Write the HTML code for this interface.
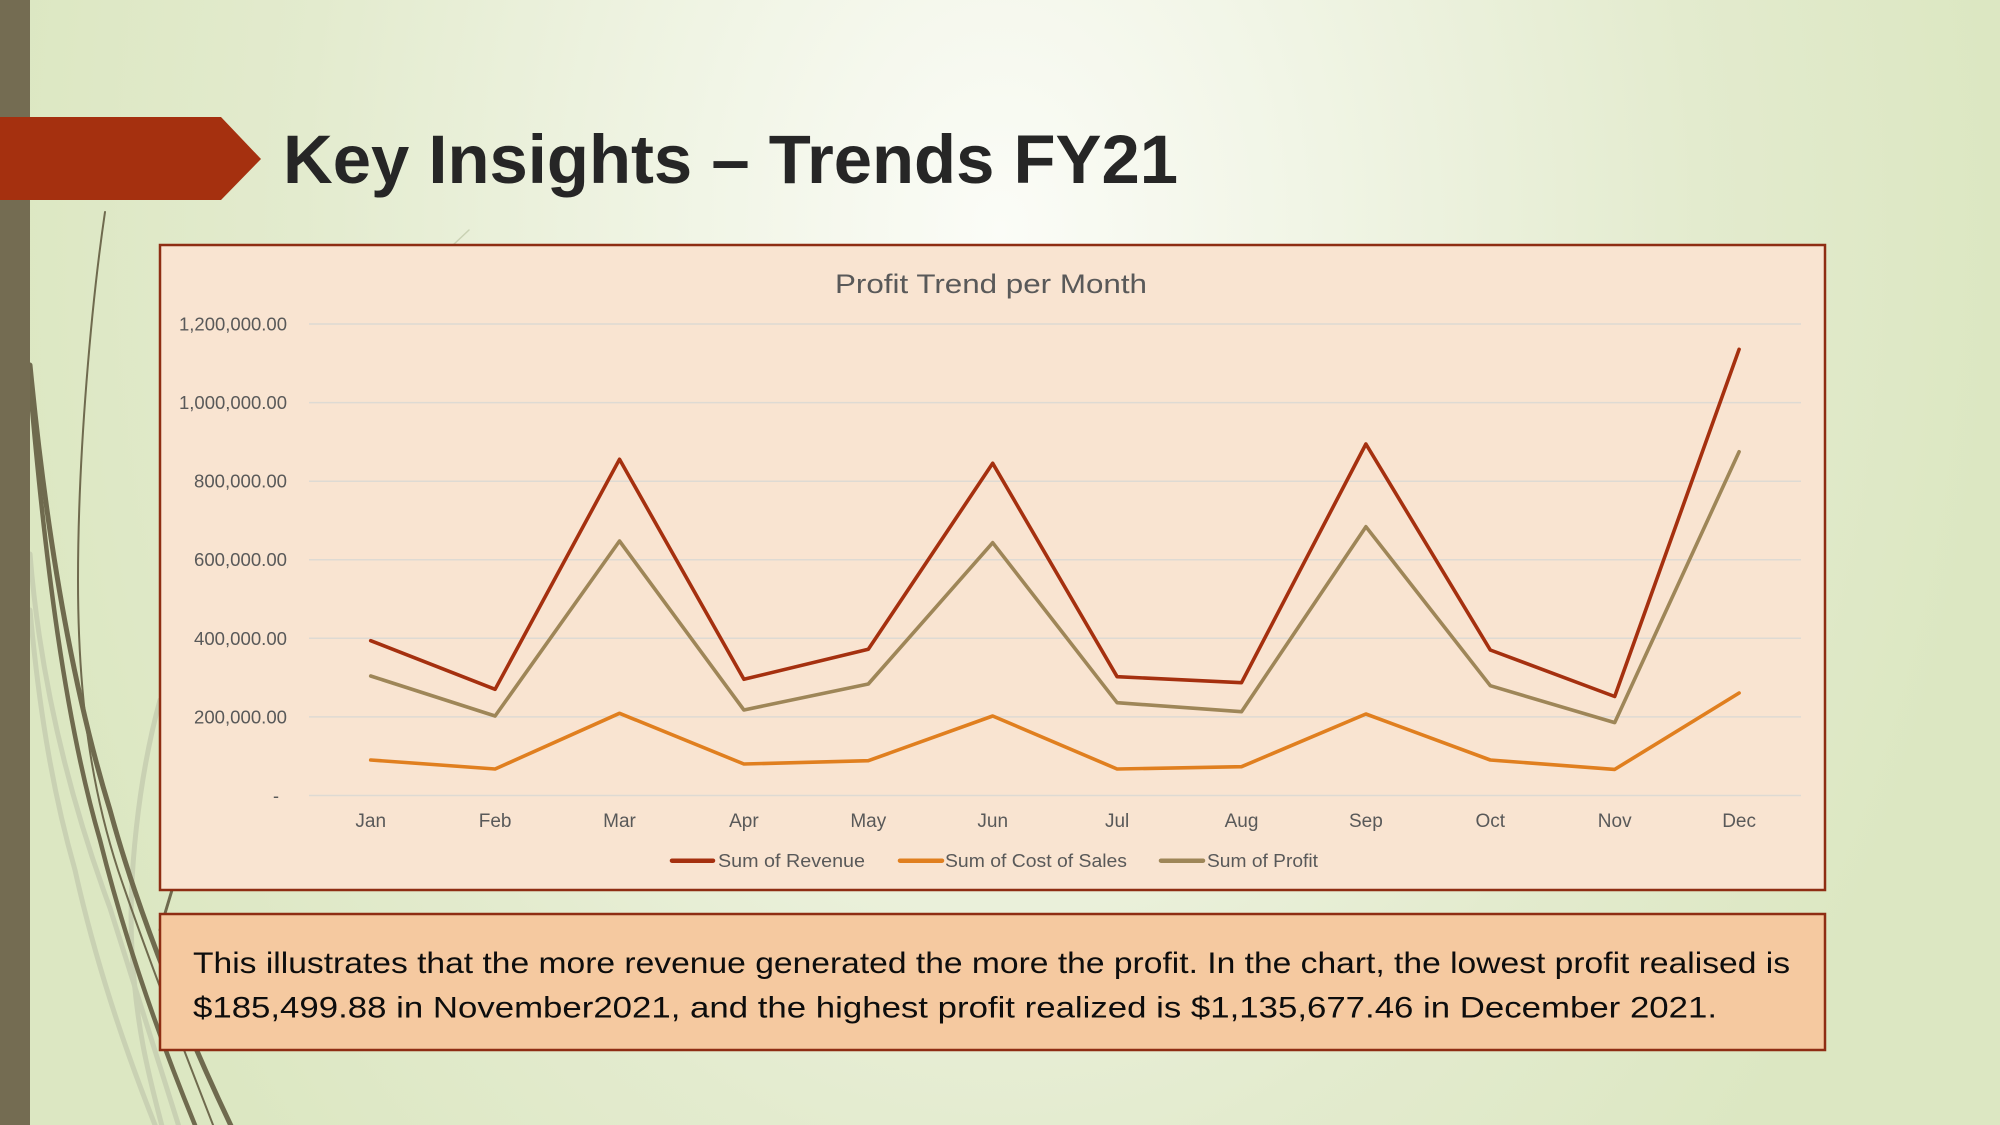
<!DOCTYPE html>
<html>
<head>
<meta charset="utf-8">
<style>
  html, body { margin: 0; padding: 0; width: 2000px; height: 1125px; overflow: hidden; }
  svg { display: block; }
  text { font-family: "Liberation Sans", sans-serif; }
</style>
</head>
<body>
<svg width="2000" height="1125" viewBox="0 0 2000 1125" xmlns="http://www.w3.org/2000/svg">
  <defs>
    <radialGradient id="bg" gradientUnits="userSpaceOnUse" cx="1000" cy="230" r="1000" gradientTransform="translate(1000,230) scale(1,1.35) translate(-1000,-230)">
      <stop offset="0" stop-color="#fbfcf7"/>
      <stop offset="0.3" stop-color="#f1f5e6"/>
      <stop offset="0.7" stop-color="#e3ebce"/>
      <stop offset="1" stop-color="#dce7c2"/>
    </radialGradient>
  </defs>

  <!-- background -->
  <rect x="0" y="0" width="2000" height="1125" fill="url(#bg)"/>

  <!-- decorative curves -->
  <g fill="none" stroke-linecap="round">
    <path d="M30,554 C40,680 70,800 110,908 C130,970 155,1050 180,1130" stroke="#c9d1b3" stroke-width="5"/>
    <path d="M30,610 C40,720 55,800 75,870 C95,960 125,1050 157,1130" stroke="#c9d1b3" stroke-width="5"/>
    <path d="M160,700 C138,780 128,880 132,950 C136,1030 150,1080 163,1130" stroke="#c9d1b3" stroke-width="5"/>
    <path d="M469,230 L452,246" stroke="#c9d1b3" stroke-width="1.5"/>
    <path d="M105,212 C92,300 78,450 78,580 C78,700 92,790 118,870 C145,950 180,1040 215,1130" stroke="#6f6a4e" stroke-width="2"/>
    <path d="M30,365 C45,520 70,680 110,810 C140,920 190,1040 233,1130" stroke="#6f6a4e" stroke-width="5"/>
    <path d="M30,385 C45,560 65,720 100,840 C125,940 160,1040 197,1130" stroke="#6f6a4e" stroke-width="4.5"/>
    <path d="M190,830 L160,930" stroke="#6f6a4e" stroke-width="3"/>
  </g>

  <!-- left olive bar -->
  <rect x="0" y="0" width="30" height="1125" fill="#746c52"/>

  <!-- banner arrow -->
  <polygon points="0,117 221,117 261,159 221,200 0,200" fill="#a5300f"/>

  <!-- title -->
  <text x="283" y="183" font-size="69" font-weight="bold" fill="#262626" textLength="895" lengthAdjust="spacingAndGlyphs">Key Insights – Trends FY21</text>

  <!-- chart box -->
  <rect x="160" y="245" width="1665" height="645" fill="#f9e4d1" stroke="#8e2d13" stroke-width="2.5"/>

  <!-- chart title -->
  <text x="835" y="293" font-size="27" fill="#595959" textLength="312" lengthAdjust="spacingAndGlyphs">Profit Trend per Month</text>

  <!-- gridlines -->
  <g stroke="#dedad3" stroke-width="1.5">
    <line x1="309" y1="324" x2="1801" y2="324"/>
    <line x1="309" y1="402.6" x2="1801" y2="402.6"/>
    <line x1="309" y1="481.2" x2="1801" y2="481.2"/>
    <line x1="309" y1="559.7" x2="1801" y2="559.7"/>
    <line x1="309" y1="638.3" x2="1801" y2="638.3"/>
    <line x1="309" y1="716.9" x2="1801" y2="716.9"/>
    <line x1="309" y1="795.5" x2="1801" y2="795.5"/>
  </g>

  <!-- y labels -->
  <g font-size="18" fill="#595959">
    <text x="179" y="330.5" textLength="108" lengthAdjust="spacingAndGlyphs">1,200,000.00</text>
    <text x="179" y="409" textLength="108" lengthAdjust="spacingAndGlyphs">1,000,000.00</text>
    <text x="194" y="487.7" textLength="93" lengthAdjust="spacingAndGlyphs">800,000.00</text>
    <text x="194" y="566.2" textLength="93" lengthAdjust="spacingAndGlyphs">600,000.00</text>
    <text x="194" y="644.8" textLength="93" lengthAdjust="spacingAndGlyphs">400,000.00</text>
    <text x="194" y="723.4" textLength="93" lengthAdjust="spacingAndGlyphs">200,000.00</text>
    <text x="273" y="802">-</text>
  </g>

  <!-- x labels -->
  <g font-size="19" fill="#595959" text-anchor="middle">
    <text x="370.7" y="827">Jan</text>
    <text x="495.1" y="827">Feb</text>
    <text x="619.5" y="827">Mar</text>
    <text x="743.9" y="827">Apr</text>
    <text x="868.3" y="827">May</text>
    <text x="992.7" y="827">Jun</text>
    <text x="1117.1" y="827">Jul</text>
    <text x="1241.5" y="827">Aug</text>
    <text x="1365.9" y="827">Sep</text>
    <text x="1490.3" y="827">Oct</text>
    <text x="1614.7" y="827">Nov</text>
    <text x="1739.1" y="827">Dec</text>
  </g>

  <!-- series -->
  <g fill="none" stroke-width="3.6" stroke-linejoin="round" stroke-linecap="round">
    <polyline stroke="#a5300f" points="370.7,640.7 495.1,689.3 619.5,459.3 743.9,679.3 868.3,649.3 992.7,463.3 1117.1,676.7 1241.5,682.7 1365.9,444 1490.3,650 1614.7,696.5 1739.1,349.3"/>
    <polyline stroke="#e07f1f" points="370.7,760 495.1,769 619.5,713.3 743.9,764 868.3,760.7 992.7,716 1117.1,769 1241.5,766.7 1365.9,714 1490.3,760 1614.7,769.4 1739.1,693"/>
    <polyline stroke="#9e8658" points="370.7,676 495.1,716 619.5,541 743.9,710 868.3,684 992.7,542.7 1117.1,702.7 1241.5,711.7 1365.9,526.7 1490.3,685.7 1614.7,722.6 1739.1,451.7"/>
  </g>

  <!-- legend -->
  <g stroke-width="4.5" stroke-linecap="round">
    <line x1="672" y1="860.7" x2="713" y2="860.7" stroke="#a5300f"/>
    <line x1="900" y1="860.7" x2="942" y2="860.7" stroke="#e07f1f"/>
    <line x1="1161" y1="860.7" x2="1203" y2="860.7" stroke="#9e8658"/>
  </g>
  <g font-size="18" fill="#595959">
    <text x="718" y="867" textLength="147" lengthAdjust="spacingAndGlyphs">Sum of Revenue</text>
    <text x="945" y="867" textLength="182" lengthAdjust="spacingAndGlyphs">Sum of Cost of Sales</text>
    <text x="1207" y="867" textLength="111" lengthAdjust="spacingAndGlyphs">Sum of Profit</text>
  </g>

  <!-- text box -->
  <rect x="160" y="914" width="1665" height="136" fill="#f5c9a0" stroke="#8e2d13" stroke-width="2.5"/>
  <g font-size="30" fill="#0d0d0d">
    <text x="193" y="973" textLength="1597" lengthAdjust="spacingAndGlyphs">This illustrates that the more revenue generated the more the profit. In the chart, the lowest profit realised is</text>
    <text x="193" y="1017.5" textLength="1524" lengthAdjust="spacingAndGlyphs">$185,499.88 in November2021, and the highest profit realized is $1,135,677.46 in December 2021.</text>
  </g>
</svg>
</body>
</html>
